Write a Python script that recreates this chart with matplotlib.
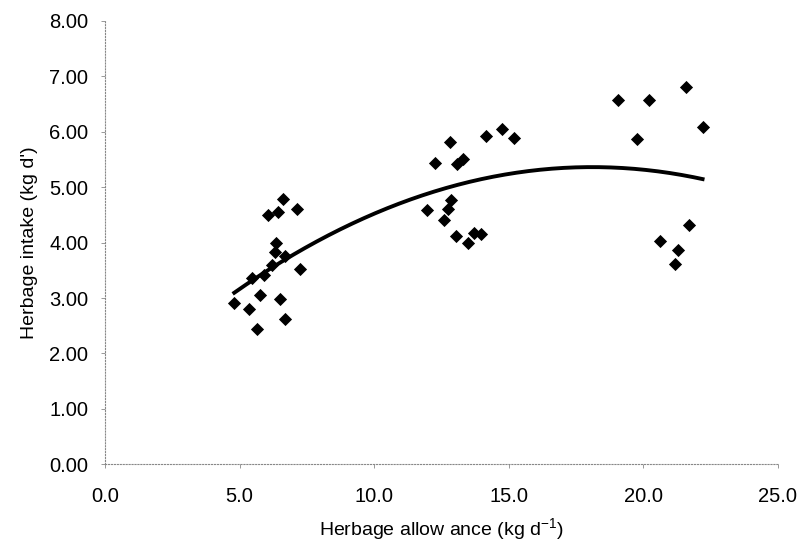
import numpy as np
import matplotlib
matplotlib.use("Agg")
import matplotlib.pyplot as plt

# herbage allowance (kg/d) and intake (kg/d)
allowance = [4.80, 5.33, 5.64, 5.76, 6.51, 6.69, 6.36, 6.32, 6.20, 6.69, 5.89, 5.45, 7.25,
             6.07, 6.44, 6.60, 7.13,
             12.27, 12.80, 13.07, 13.29, 14.16, 14.74, 15.21,
             12.86, 12.73, 11.96, 12.58, 13.05, 13.48, 13.69, 13.96,
             19.06, 20.20, 21.58, 22.20, 19.76, 21.71, 20.61, 21.29, 21.19]
intake = [2.91, 2.81, 2.45, 3.05, 2.98, 2.62, 3.99, 3.83, 3.60, 3.75, 3.42, 3.36, 3.52,
          4.50, 4.56, 4.79, 4.61,
          5.44, 5.81, 5.42, 5.51, 5.93, 6.05, 5.89,
          4.77, 4.61, 4.58, 4.41, 4.11, 3.99, 4.17, 4.16,
          6.57, 6.57, 6.81, 6.08, 5.87, 4.31, 4.02, 3.86, 3.62]

x_ticks = [0, 5, 10, 15, 20, 25]
y_ticks = [0, 1, 2, 3, 4, 5, 6, 7, 8]

plt.rcParams["font.family"] = ["Liberation Sans", "DejaVu Sans"]

fig = plt.figure(figsize=(8.02, 5.47), dpi=100)
ax = fig.add_axes([0.131, 0.151, 0.839, 0.811])

ax.scatter(allowance, intake, marker="D", s=45, color="black", zorder=3, linewidths=0)

# second order polynomial trendline, as in the spreadsheet
coef = np.polyfit(allowance, intake, 2)
xs = np.linspace(min(allowance), max(allowance), 200)
ax.plot(xs, np.polyval(coef, xs), color="black", lw=2.8, zorder=2)

ax.set_xlim(0, 25)
ax.set_ylim(0, 8)
ax.set_xticks(x_ticks)
ax.set_yticks(y_ticks)
ax.set_xticklabels([f"{v:.1f}" for v in x_ticks])
ax.set_yticklabels([f"{v:.2f}" for v in y_ticks])

for side in ["top", "right"]:
    ax.spines[side].set_visible(False)
for side in ["left", "bottom"]:
    ax.spines[side].set_color("#888888")
    ax.spines[side].set_linewidth(0.8)
    ax.spines[side].set_linestyle(":")

ax.tick_params(axis="both", labelsize=14.5, colors="#888888", labelcolor="black",
               length=3, width=0.6)
ax.tick_params(axis="x", pad=13)
ax.tick_params(axis="y", pad=9)

ax.set_xlabel("Herbage allow ance (kg d$^{\\mathregular{-1}}$)", fontsize=14, labelpad=8)
ax.set_ylabel("Herbage intake (kg d')", fontsize=14, labelpad=8)

fig.savefig("out.png", dpi=100)
